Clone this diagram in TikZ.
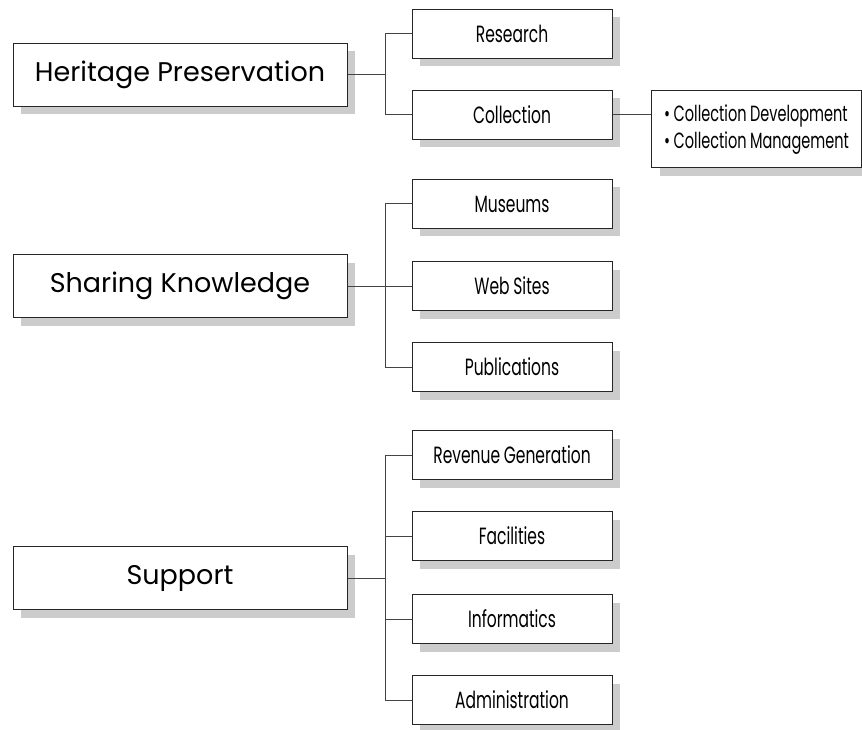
\documentclass[tikz,border=0pt]{standalone}
\usepackage{fontspec}
\setmainfont{Poppins}
\newfontfamily\narrowfont[FakeStretch=0.66, WordSpace=0.9]{Poppins}
\usepackage{tikz}
\usetikzlibrary{positioning, calc, shadows}
\definecolor{shadowgray}{HTML}{CCCCCC}
\definecolor{linegray}{HTML}{444444}
\tikzstyle{Link} = [
%elbow connector between boxes:
line width = 1pt, draw = linegray
]

\begin{document}
\begin{tikzpicture}[x = 1pt, y = -1pt,
				boxed/.style = {rectangle, draw = black!85, line width = 1pt, fill = white, inner sep = 0pt,
					drop shadow = {shadow xshift = 8pt, shadow yshift = -8pt, fill = shadowgray, opacity = 1}},
				area/.style = {boxed, minimum width = 334pt, minimum height = 63pt, font = \fontsize{27}{30}\selectfont},
				unit/.style = {boxed, minimum width = 200pt, minimum height = 49pt, font = \narrowfont\fontsize{23.5}{25}\selectfont},
				detail/.style = {boxed, minimum width = 210pt, minimum height = 77pt, align = left,
					font = \narrowfont\fontsize{22}{27}\selectfont},
			]
			\useasboundingbox (0,0) rectangle (862,730);

			% main areas
			\node[area](HP) at (180,75){Heritage Preservation};
			\node[area](SK) at (180,286){Sharing Knowledge};
			\node[area](SU) at (180,578){Support};

			% units
			\node[unit](RE) at (512,34){Research};
			\node[unit](CO) at (512,115){Collection};
			\node[unit](MU) at (512,204){Museums};
			\node[unit](WS) at (512,286){Web Sites};
			\node[unit](PU) at (512,367){Publications};
			\node[unit](RG) at (512,455){Revenue Generation};
			\node[unit](FA) at (512,536){Facilities};
			\node[unit](IN) at (512,619){Informatics};
			\node[unit](AD) at (512,700){Administration};

			\node[detail, anchor = west](CD) at (651,129.5){\textbullet\,Collection Development\\\textbullet\,Collection Management};

			% junctions
			\coordinate(jHP) at (385,75);
			\coordinate(jSK) at (385,286);
			\coordinate(jSU) at (385,578);

			\draw[Link](HP.east)--(jHP);
			\foreach \u in {RE, CO}
				\draw[Link](jHP)|-(\u.west);
			\draw[Link](SK.east)--(jSK);
			\foreach \u in {MU, WS, PU}
				\draw[Link](jSK)|-(\u.west);
			\draw[Link](SU.east)--(jSU);
			\foreach \u in {RG, FA, IN, AD}
				\draw[Link](jSU)|-(\u.west);
			\draw[Link](CO.east)--(CO.east -| CD.west);

		\end{tikzpicture}
\end{document}
